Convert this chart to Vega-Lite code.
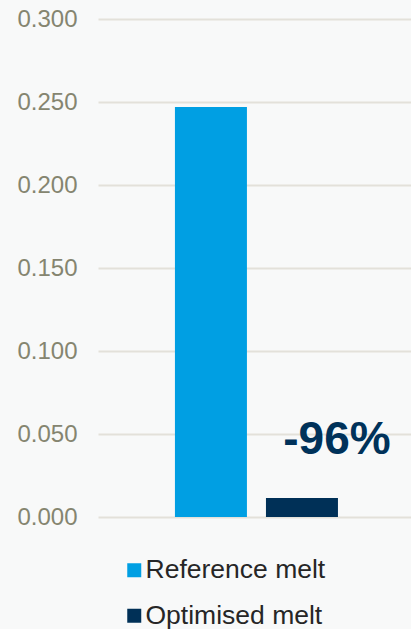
{
  "$schema": "https://vega.github.io/schema/vega-lite/v6.json",
  "width": 313,
  "height": 498,
  "autosize": "none",
  "padding": {"left": 98, "top": 19, "right": 0, "bottom": 112},
  "background": "#F8F9F9",
  "config": {
    "font": "Liberation Sans",
    "view": {"stroke": null}
  },
  "data": {
    "values": [
      {"grp": "melt", "series": "Reference melt", "value": 0.247, "label": ""},
      {"grp": "melt", "series": "Optimised melt", "value": 0.0114, "label": "-96%"}
    ]
  },
  "encoding": {
    "x": {"field": "grp", "type": "nominal", "axis": null,
      "scale": {"paddingOuter": 0.46, "paddingInner": 0, "align": 0.513}},
    "xOffset": {"field": "series", "type": "nominal",
      "sort": ["Reference melt", "Optimised melt"],
      "scale": {"paddingInner": 0.209, "paddingOuter": 0}}
  },
  "layer": [
    {
      "mark": {"type": "bar"},
      "encoding": {
        "y": {"field": "value", "type": "quantitative",
          "scale": {"domain": [0, 0.3], "nice": false},
          "axis": {
            "values": [0, 0.05, 0.1, 0.15, 0.2, 0.25, 0.3],
            "format": ".3f", "title": null, "domain": false, "ticks": false,
            "labelPadding": 21, "labelFontSize": 24, "labelColor": "#858570",
            "gridColor": "#E3E1DA", "gridWidth": 2
          }},
        "color": {"field": "series", "type": "nominal",
          "sort": ["Reference melt", "Optimised melt"],
          "scale": {"domain": ["Reference melt", "Optimised melt"], "range": ["#009FE3", "#003057"]},
          "legend": {
            "title": null, "orient": "none", "legendX": 23, "legendY": 538,
            "direction": "vertical", "padding": 0,
            "symbolType": "square", "symbolSize": 196, "symbolStrokeWidth": 0,
            "symbolOpacity": 1,
            "labelFontSize": 26.5, "labelColor": "#262626", "labelOffset": -2,
            "labelLimit": 0,
            "rowPadding": 18.5
          }}
      }
    },
    {
      "transform": [{"filter": "datum.label != ''"}],
      "mark": {"type": "text", "fontSize": 46, "fontWeight": "bold", "color": "#00325A",
        "align": "center", "baseline": "alphabetic", "dx": 35},
      "encoding": {
        "y": {"datum": 0.038},
        "text": {"field": "label"}
      }
    }
  ]
}
